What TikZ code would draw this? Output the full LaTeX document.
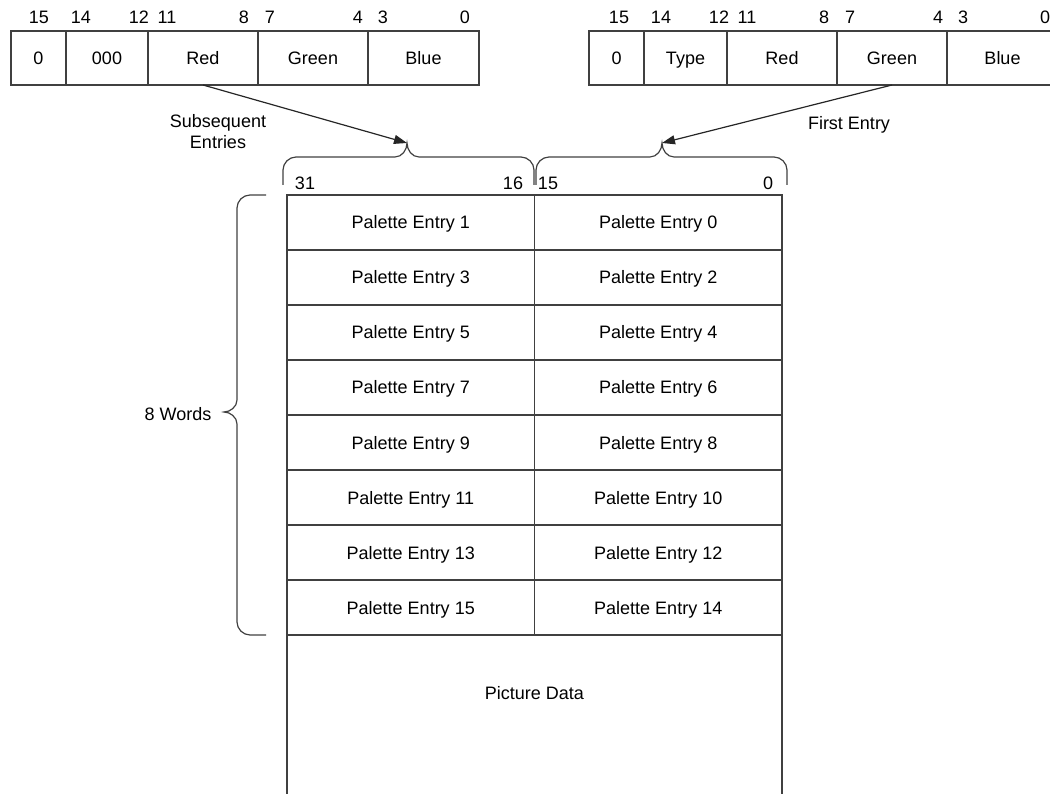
\documentclass[tikz,border=0pt]{standalone}
\usepackage{fontspec}
\setmainfont{Liberation Sans}
\usetikzlibrary{positioning, arrows.meta}

\begin{document}
\begin{tikzpicture}[x=1pt, y=-1pt, line width=1.2pt, draw=black!75,
    every node/.style={font=\fontsize{18}{21}\selectfont, text=black},
    field/.style={draw, minimum height=54pt, inner sep=0pt, outer sep=0pt,
        text height=15pt, text depth=2pt},
    cell/.style={draw, minimum width=247.5pt, minimum height=55pt, inner sep=0pt, outer sep=0pt,
        text height=15pt, text depth=2pt},
    bitno/.style={inner sep=0pt},
    pointer/.style={-{Triangle[length=13pt,width=9pt]}, draw=black!85}]
    \useasboundingbox (0,0) rectangle (1050,794);
    \clip (0,0) rectangle (1050,794);

    % 16-bit entry formats
    \node[field, minimum width=55pt] (lzero) at (38.5,58) {0};
    \node[field, minimum width=82pt, right=0pt of lzero] (ltype) {000};
    \node[field, minimum width=110pt, right=0pt of ltype] (lred) {Red};
    \node[field, minimum width=110pt, right=0pt of lred] (lgreen) {Green};
    \node[field, minimum width=111pt, right=0pt of lgreen] (lblue) {Blue};

    \node[field, minimum width=55pt] (rzero) at (616.5,58) {0};
    \node[field, minimum width=83pt, right=0pt of rzero] (rtype) {Type};
    \node[field, minimum width=110pt, right=0pt of rtype] (rred) {Red};
    \node[field, minimum width=110pt, right=0pt of rred] (rgreen) {Green};
    \node[field, minimum width=111pt, right=0pt of rgreen] (rblue) {Blue};

    \foreach \x/\b in {39/15, 81/14, 139/12, 167/11, 244/8, 270/7, 358/4, 383/3, 465/0} {
        \node[bitno] (lbit\b) at (\x,17) {\b};
        \node[bitno] (rbit\b) at (\x+580,17) {\b};
    }

    % palette words
    \foreach \r in {0,...,7} {
        \pgfmathtruncatemacro{\odd}{2*\r+1}
        \pgfmathtruncatemacro{\even}{2*\r}
        \node[cell] (left\r) at (410.75,222.5+55*\r) {Palette Entry \odd};
        \node[cell, right=0pt of left\r] (right\r) {Palette Entry \even};
    }
    \draw (left7.south west) -- ++(0,170);
    \draw (right7.south east) -- ++(0,170);
    \node (data) at (534.5,693) {Picture Data};

    \node[bitno] (hi31) at (305,183) {31};
    \node[bitno] (hi16) at (513,183) {16};
    \node[bitno] (lo15) at (548,183) {15};
    \node[bitno] (lo0) at (768,183) {0};

    % braces
    \coordinate (subtip) at (407,143);
    \coordinate (firsttip) at (662,143);
    \coordinate (wordtip) at (224,412);
    \draw (283,185) -- (283,170) .. controls (283,163) and (289,157) .. (296,157) -- (395,157)
        .. controls (402,157) and (407,150) .. (subtip) .. controls (407,150) and (412,157) .. (419,157)
        -- (521,157) .. controls (528,157) and (534,163) .. (534,170) -- (534,185);
    \draw (536,185) -- (536,170) .. controls (536,163) and (542,157) .. (549,157) -- (650,157)
        .. controls (657,157) and (662,150) .. (firsttip) .. controls (662,150) and (667,157) .. (674,157)
        -- (774,157) .. controls (781,157) and (787,163) .. (787,170) -- (787,185);
    \draw (266,195) -- (250,195) .. controls (243,195) and (237,201) .. (237,208) -- (237,400)
        .. controls (237,407) and (230,412) .. (wordtip) .. controls (230,412) and (237,417) .. (237,424)
        -- (237,622) .. controls (237,629) and (243,635) .. (250,635) -- (266,635);

    \node[align=center] (subsequent) at (218,132) {Subsequent\\Entries};
    \node (first) at (849,125) {First Entry};
    \node (words) at (178,414) {8 Words};

    \draw[pointer] (lred.south) -- (subtip);
    \draw[pointer] (rgreen.south) -- (firsttip);
\end{tikzpicture}
\end{document}
